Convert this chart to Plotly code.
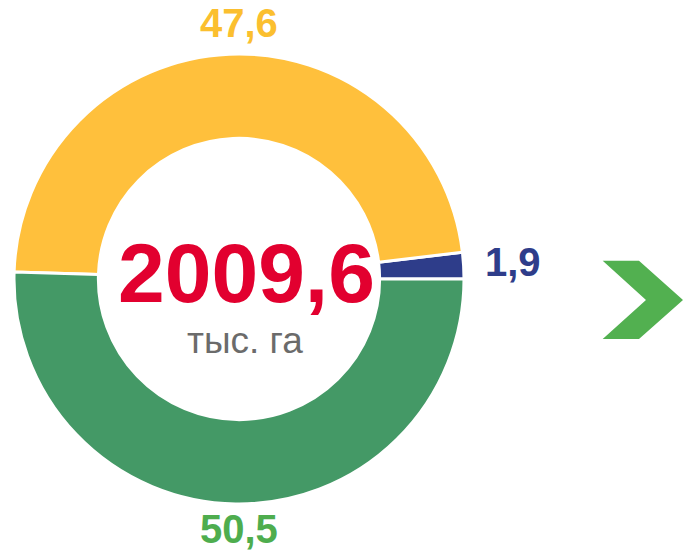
import math
import plotly.graph_objects as go

# ---- data ----
categories = ["Категория A", "Категория B", "Категория C"]
shares = [1.9, 47.6, 50.5]
share_labels = ["1,9", "47,6", "50,5"]
slice_colors = ["#2E3D8A", "#FFC03C", "#449966"]
label_colors = ["#2E3D8A", "#FBBF2F", "#4EAD4E"]
total_value = "2009,6"
total_unit = "тыс. га"

W, H = 684, 553
CX, CY, R = 239, 279, 225      # donut centre and radius in pixels
HOLE = 0.625


def px(x):
    return x / W


def py(y):
    return 1 - y / H


tot = sum(shares)
fig = go.Figure()
fig.add_trace(go.Pie(
    labels=categories,
    values=shares,
    sort=False,
    direction="counterclockwise",
    rotation=90 - 360 * shares[0] / tot,
    hole=HOLE,
    marker=dict(colors=slice_colors, line=dict(color="white", width=3)),
    textinfo="none",
    hoverinfo="label+value",
    domain=dict(x=[px(CX - R), px(CX + R)], y=[py(CY + R), py(CY - R)]),
))

# value labels placed just outside each slice, on the side of its mid-angle
cum = 0.0
annotations = []
for v, txt, col in zip(shares, share_labels, label_colors):
    mid = (cum + v / 2) / tot * 2 * math.pi
    cum += v
    c, s = math.cos(mid), math.sin(mid)
    if abs(c) > 0.7:
        gap = 20
        x = CX + (R + gap) * c
        y = CY - (R + gap) * s - 2
        xa, ya = ("left" if c > 0 else "right"), "middle"
    elif s > 0:
        x, y = CX, CY - R - 8
        xa, ya = "center", "bottom"
    else:
        x, y = CX, CY + R + 2
        xa, ya = "center", "top"
    annotations.append(dict(
        x=px(x), y=py(y), xref="paper", yref="paper",
        xanchor=xa, yanchor=ya, text=txt, showarrow=False, borderpad=0,
        font=dict(family="Liberation Sans, Arial", size=40, color=col, weight="bold"),
    ))

annotations.append(dict(
    x=px(246), y=py(273), xref="paper", yref="paper", xanchor="center", yanchor="middle",
    text=total_value, showarrow=False,
    font=dict(family="Liberation Sans, Arial", size=84, color="#E2002F", weight="bold"),
))
annotations.append(dict(
    x=px(245), y=py(340), xref="paper", yref="paper", xanchor="center", yanchor="middle",
    text=total_unit, showarrow=False,
    font=dict(family="Liberation Sans, Arial", size=37, color="#6B6B6B"),
))

# chevron arrow
pts = [(602.7, 260.7), (639, 260.7), (683, 300), (639, 339), (602.7, 339), (646, 300)]
path = "M " + " L ".join(f"{px(a):.5f},{py(b):.5f}" for a, b in pts) + " Z"
fig.add_shape(type="path", path=path, xref="paper", yref="paper",
              fillcolor="#52B050", line=dict(width=0))

fig.update_layout(
    width=W, height=H,
    margin=dict(l=0, r=0, t=0, b=0),
    paper_bgcolor="white", plot_bgcolor="white",
    showlegend=False,
    annotations=annotations,
)

fig.write_html("out.html", config={"displayModeBar": False},
               post_script="document.body.style.margin='0';")
